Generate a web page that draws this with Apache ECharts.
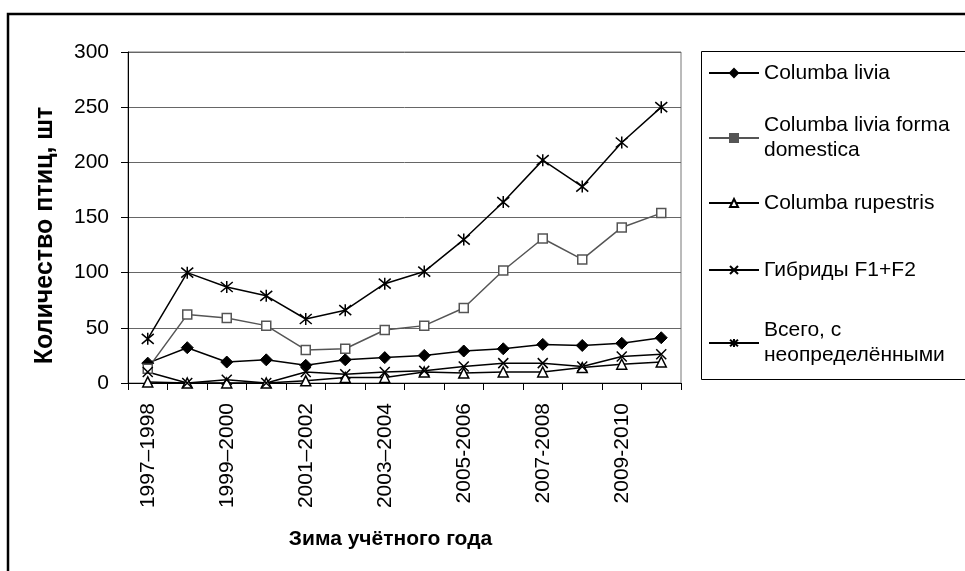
<!DOCTYPE html>
<html>
<head>
<meta charset="utf-8">
<script src="https://cdn.jsdelivr.net/npm/echarts@6/dist/echarts.min.js"></script>
</head>
<body style="margin:0; background:#fff;">
<div id="chart" style="width: 965px; height: 571px;"></div>
<script>
    // зимы учёта
    var seasons = ['1997–1998', '1998–1999', '1999–2000', '2000–2001', '2001–2002', '2002–2003', '2003–2004',
        '2004–2005', '2005-2006', '2006-2007', '2007-2008', '2008-2009', '2009-2010', '2010-2011'];
    var yTicks = [0, 50, 100, 150, 200, 250, 300];

    var livia = [18, 32, 19, 21, 16, 21, 23, 25, 29, 31, 35, 34, 36, 41];
    var domestica = [13, 62, 59, 52, 30, 31, 48, 52, 68, 102, 131, 112, 141, 154];
    var rupestris = [1, 0, 0, 0, 2, 5, 5, 10, 9, 10, 10, 14, 17, 19];
    var hybrids = [10, 0, 3, 0, 10, 8, 10, 11, 15, 18, 18, 15, 24, 26];
    var total = [40, 100, 87, 79, 58, 66, 90, 101, 130, 164, 202, 178, 218, 250];

    var names = ['Columba livia', 'Columba livia forma\ndomestica', 'Columba rupestris',
        'Гибриды F1+F2', 'Всего, с\nнеопределёнными'];

    var font = 'Liberation Sans, Arial, sans-serif';
    var xMark = 'path://M0 0 L10 10 M10 0 L0 10';
    var starMark = 'path://M0 0 L10 10 M10 0 L0 10 M5 -1 L5 11';

    // одна легенда на каждую строку, чтобы поставить их как в оригинале
    var legendCenters = [73, 138, 203, 270, 343];
    var legends = names.map(function (n, i) {
        var twoLines = n.indexOf('\n') >= 0;
        var h = twoLines ? 75 : 25;
        var item = {name: n};
        if (i === 1) {
            item.itemStyle = {color: '#555', borderColor: '#555'};
        }
        return {
            data: [item],
            left: 708,
            top: legendCenters[i] - h / 2,
            padding: 0,
            itemWidth: 50,
            itemHeight: 10,
            itemGap: 0,
            selectedMode: false,
            textStyle: {
                fontFamily: font,
                fontSize: 21,
                lineHeight: 25,
                color: '#000',
                padding: twoLines ? [25, 0, 0, 0] : 0
            }
        };
    });

    var myChart = echarts.init(document.getElementById('chart'));
    var option = {
        backgroundColor: '#fff',
        animation: false,
        graphic: [
            {type: 'rect', shape: {x: 8, y: 14, width: 1000, height: 600}, style: {fill: null, stroke: '#000', lineWidth: 2.5}},
            {type: 'rect', shape: {x: 701.5, y: 51.5, width: 300, height: 328}, style: {fill: null, stroke: '#000', lineWidth: 1}}
        ],
        legend: legends,
        grid: {
            left: 128,
            top: 52,
            right: 284,
            bottom: 188,
            show: true,
            borderColor: '#777',
            borderWidth: 1
        },
        xAxis: {
            type: 'category',
            data: seasons,
            boundaryGap: true,
            name: 'Зима учётного года',
            nameLocation: 'middle',
            nameGap: 146,
            nameTextStyle: {fontFamily: font, fontSize: 21, fontWeight: 'bold', color: '#000', padding: [0, 28, 0, 0]},
            axisLine: {lineStyle: {color: '#000', width: 1}},
            axisTick: {show: true, interval: 0, length: 7, lineStyle: {color: '#000'}},
            axisLabel: {
                interval: 1,
                rotate: 90,
                margin: 20,
                fontFamily: font,
                fontSize: 21,
                color: '#000'
            },
            splitLine: {show: false}
        },
        yAxis: {
            type: 'value',
            min: yTicks[0],
            max: yTicks[yTicks.length - 1],
            interval: 50,
            name: 'Количество птиц, шт',
            nameLocation: 'middle',
            nameGap: 70,
            nameTextStyle: {fontFamily: font, fontSize: 25, fontWeight: 'bold', color: '#000', padding: [0, 36, 0, 0]},
            axisLine: {show: true, lineStyle: {color: '#000', width: 1}},
            axisTick: {show: true, length: 7, lineStyle: {color: '#000'}},
            axisLabel: {margin: 19, fontFamily: font, fontSize: 21, color: '#000'},
            splitLine: {show: true, lineStyle: {color: '#666', width: 1}}
        },
        series: [
            {
                name: names[0], type: 'line', data: livia,
                symbol: 'diamond', symbolSize: 12,
                lineStyle: {color: '#000', width: 1.5},
                itemStyle: {color: '#000', borderColor: '#000', borderWidth: 1}
            },
            {
                name: names[1], type: 'line', data: domestica,
                symbol: 'rect', symbolSize: 9,
                lineStyle: {color: '#555', width: 1.5},
                itemStyle: {color: '#fff', borderColor: '#555', borderWidth: 1.5}
            },
            {
                name: names[2], type: 'line', data: rupestris,
                symbol: 'triangle', symbolSize: 10,
                lineStyle: {color: '#000', width: 1.5},
                itemStyle: {color: '#fff', borderColor: '#000', borderWidth: 1.5}
            },
            {
                name: names[3], type: 'line', data: hybrids,
                symbol: xMark, symbolSize: 10,
                lineStyle: {color: '#000', width: 1.5},
                itemStyle: {color: '#000', borderColor: '#000', borderWidth: 1.5}
            },
            {
                name: names[4], type: 'line', data: total,
                symbol: starMark, symbolSize: 12,
                lineStyle: {color: '#000', width: 1.5},
                itemStyle: {color: '#000', borderColor: '#000', borderWidth: 1.5}
            }
        ]
    };

    option && myChart.setOption(option);
</script>
</body>
</html>
